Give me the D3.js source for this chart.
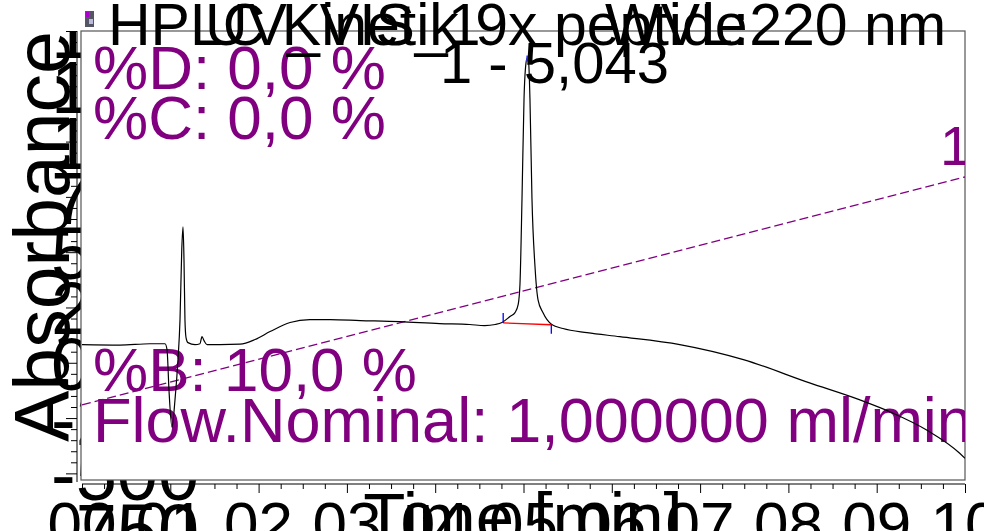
<!DOCTYPE html>
<html><head><meta charset="utf-8">
<script src="https://cdn.jsdelivr.net/npm/d3@7"></script>
<style>
body{margin:0;background:#fff}
svg{display:block}
text{font-family:"Liberation Sans",Arial,sans-serif}
</style>
</head><body>
<svg id="c" width="984" height="531"></svg>
<script>
// ---------- data ----------
const times = [0, 0.43, 0.77, 0.94, 0.963, 0.985, 1.019, 1.053, 1.087, 1.11, 1.13, 1.144, 1.155, 1.166, 1.178, 1.20, 1.28, 1.336, 1.359, 1.382, 1.416, 1.563, 1.79, 1.96, 2.13, 2.356, 2.58, 2.81, 3.15, 3.60, 4.05, 4.39, 4.56, 4.68, 4.756, 4.847, 4.904, 4.94, 4.96, 4.983, 5.006, 5.028, 5.043, 5.058, 5.073, 5.096, 5.130, 5.164, 5.22, 5.32, 5.447, 5.72, 6.09, 6.77, 7.49, 8.24, 8.81, 9.18, 9.57, 9.94, 10.0];
const absorbance = [82, 80, 86, 86, 59, -123, -291, -168, 14, 195, 514, 614, 468, 195, 114, 91, 82, 86, 118, 100, 82, 82, 84, 105, 141, 182, 195, 195, 191, 186, 177, 173, 168, 173, 182, 209, 227, 264, 355, 741, 1195, 1355, 1380, 1360, 1195, 741, 436, 286, 227, 173, 155, 136, 118, 82, 14, -91, -168, -227, -305, -409, -432];
const gradientTimes = [0, 10];
const gradientB = [10, 100];
const peakBaseTimes = [4.77, 5.315];
const peakBaseValues = [180, 172];
const peakApex = [5.043, 1380];
const peakLabel = "1 - 5,043";
const xTicks = [0,1,2,3,4,5,6,7,8,9,10];
const xTickLabels = ["00","01","02","03","04","05","06","07","08","09","10"];
const yTicks = [1500,1250,1000,750,500,250,0,-250,-500,-750];
const yTickLabels = ["1500","1250","1000","750","500","250","0","-250","-500","-750"];
const titleTexts = ["HPLC Kinetik 9x peptide", "UV_VIS_1", "WVL:220 nm"];
const methodTop = ["%D: 0,0 %", "%C: 0,0 %"];
const methodBottom = ["%B: 10,0 %", "Flow.Nominal: 1,000000 ml/min"];
const gradientEndLabel = "100,0 %";
const xTitle = "Time [min]";
const yTitle = "Absorbance";

// ---------- layout ----------
const svg = d3.select("#c");
svg.append("rect").attr("width",984).attr("height",531).attr("fill","#fff");
const L = 81, R = 965, T = 31, B = 480;
const x = d3.scaleLinear().domain([0,10]).range([L+1, R]);
const y = d3.scaleLinear().domain([-530,1500]).range([B, T]);
const yB = d3.scaleLinear().domain([0,100]).range([430.3, 177]);
const defs = svg.append("defs");
defs.append("clipPath").attr("id","lc").append("rect").attr("x",0).attr("y",T).attr("width",984).attr("height",600);

// y title
svg.append("text").attr("transform","translate(69,442) rotate(-90)")
  .attr("font-size",77).attr("fill","#000").text(yTitle);

// y tick labels (partly hidden by plot)
svg.append("g").attr("clip-path","url(#lc)").selectAll("text").data(yTicks).join("text")
  .attr("x",51).attr("y",d=>y(d)+27).attr("font-size",74).attr("fill","#000")
  .text((d,i)=>yTickLabels[i]);

// y axis
const yAxis = d3.axisLeft(y).tickValues(d3.range(-500,1501,50)).tickSize(6).tickFormat("");
const ga = svg.append("g").attr("transform","translate(77,0)").call(yAxis);
ga.selectAll(".tick line").attr("x2",d=>d%250===0?-11:-6);
ga.select(".domain").attr("d",`M0,${T}V${B+2}`);
ga.selectAll("line,path").attr("stroke","#000");

// x tick labels
svg.append("g").selectAll("text").data(xTicks).join("text")
  .attr("x",d=>x(d)).attr("y",545).attr("text-anchor","middle").attr("font-size",62)
  .text((d,i)=>xTickLabels[i]);

// x axis
const xAxis = d3.axisBottom(x).tickValues(d3.range(0,10.01,0.25)).tickSize(5).tickFormat("");
const gx = svg.append("g").attr("transform","translate(0,484)").call(xAxis);
gx.selectAll(".tick line").attr("y2",d=>Math.abs(d-Math.round(d))<1e-6?9:5);
gx.selectAll("line,path").attr("stroke","#000");
gx.select(".domain").attr("d",`M${L+1},0H${R}`);

// x title
svg.append("text").attr("x",(L+R)/2).attr("y",541).attr("text-anchor","middle")
  .attr("font-size",69).text(xTitle);

// plot area
svg.append("rect").attr("x",L).attr("y",T).attr("width",R-L).attr("height",B-T)
  .attr("fill","#fff").attr("stroke","#555").attr("stroke-width",1.2);

defs.append("clipPath").attr("id","pc").append("rect")
  .attr("x",L).attr("y",T).attr("width",R-L).attr("height",B-T);
const P = svg.append("g").attr("clip-path","url(#pc)");

// method texts
P.selectAll(".mt").data(methodTop).join("text").attr("class","mt")
  .attr("x",93).attr("y",(d,i)=>89+i*50).attr("font-size",62).attr("fill","#800080").text(d=>d);
P.selectAll(".mb").data(methodBottom).join("text").attr("class","mb")
  .attr("x",93).attr("y",(d,i)=>391+i*51).attr("font-size",(d,i)=>i?63:62).attr("fill","#800080").text(d=>d);
P.append("text").attr("x",940).attr("y",165).attr("font-size",56).attr("fill","#800080").text(gradientEndLabel);

// gradient
P.append("path").datum(gradientTimes.map((t,i)=>[t,gradientB[i]]))
  .attr("d",d3.line().x(d=>x(d[0])).y(d=>yB(d[1])))
  .attr("fill","none").attr("stroke","#800080").attr("stroke-width",1.3).attr("stroke-dasharray","9,4");

// trace
P.append("path").datum(times.map((t,i)=>[t,absorbance[i]]))
  .attr("d",d3.line().x(d=>x(d[0])).y(d=>y(d[1])).curve(d3.curveMonotoneX))
  .attr("fill","none").attr("stroke","#000").attr("stroke-width",1.2);

// peak baseline + markers
P.append("line").attr("x1",x(peakBaseTimes[0])).attr("y1",y(peakBaseValues[0]))
  .attr("x2",x(peakBaseTimes[1])).attr("y2",y(peakBaseValues[1])).attr("stroke","#f00").attr("stroke-width",1.3);
P.append("line").attr("x1",x(peakBaseTimes[0])).attr("x2",x(peakBaseTimes[0]))
  .attr("y1",y(peakBaseValues[0])).attr("y2",y(peakBaseValues[0])-10).attr("stroke","#00f").attr("stroke-width",1.3);
P.append("line").attr("x1",x(peakBaseTimes[1])).attr("x2",x(peakBaseTimes[1]))
  .attr("y1",y(peakBaseValues[1])).attr("y2",y(peakBaseValues[1])+9).attr("stroke","#00f").attr("stroke-width",1.3);
P.append("line").attr("x1",x(peakApex[0])).attr("x2",x(peakApex[0]))
  .attr("y1",y(peakApex[1])-2).attr("y2",y(peakApex[1])+4).attr("stroke","#44f").attr("stroke-width",2);

// peak label
svg.append("text").attr("x",440).attr("y",83).attr("font-size",58).attr("fill","#000").text(peakLabel);

// title
svg.selectAll(".tt").data(titleTexts).join("text").attr("class","tt")
  .attr("x",(d,i)=>[108,205,605][i]).attr("y",45).attr("font-size",59).attr("fill","#000").text(d=>d);

// icon
const ic = svg.append("g");
ic.append("rect").attr("x",85).attr("y",11).attr("width",9).attr("height",16).attr("fill","#556");
ic.append("rect").attr("x",86).attr("y",12).attr("width",3).attr("height",5).attr("fill","#a0c");
ic.append("rect").attr("x",89).attr("y",19).attr("width",4).attr("height",5).attr("fill","#bbd");
</script>
</body></html>
